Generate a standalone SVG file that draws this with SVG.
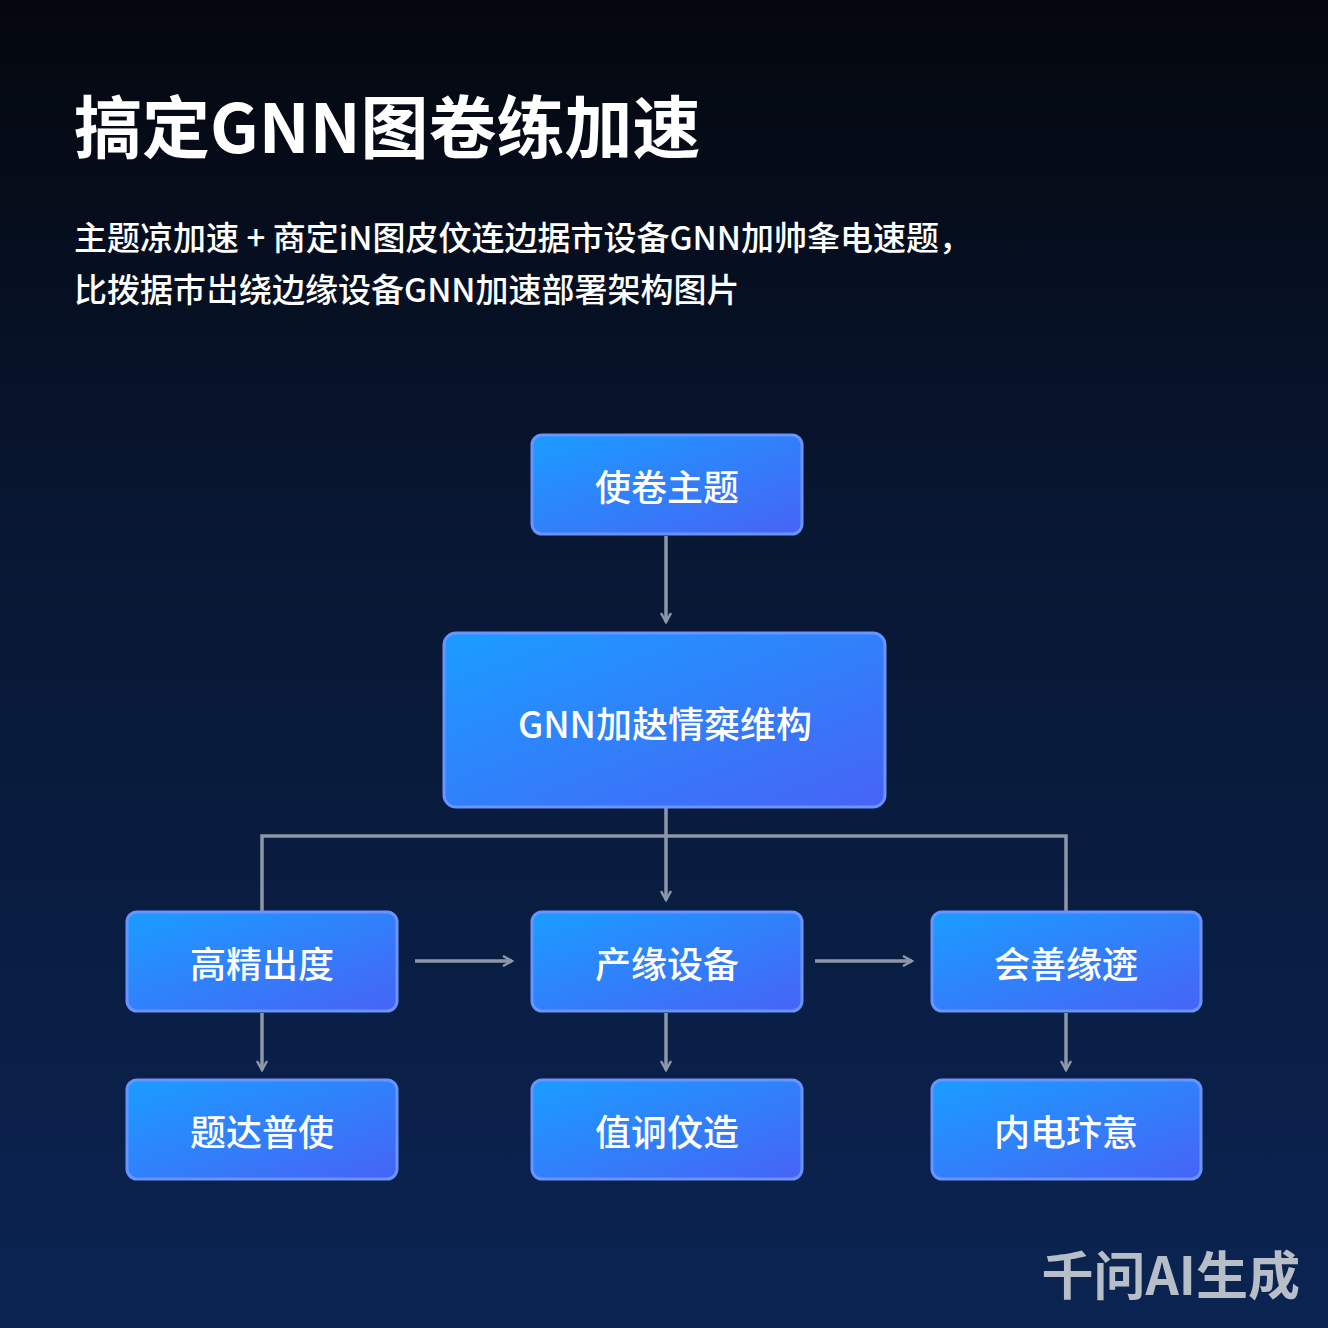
<svg xmlns="http://www.w3.org/2000/svg" width="1328" height="1328" viewBox="0 0 1328 1328">
<defs>
<linearGradient id="bg" x1="0" y1="0" x2="0" y2="1"><stop offset="0" stop-color="#04070d"/><stop offset="0.4" stop-color="#081733"/><stop offset="1" stop-color="#0b2452"/></linearGradient>
<linearGradient id="box" x1="0" y1="0" x2="1" y2="1"><stop offset="0" stop-color="#1a9dff"/><stop offset="1" stop-color="#4763f6"/></linearGradient>
<marker id="ah" viewBox="0 0 12 12" refX="10" refY="6" markerWidth="12" markerHeight="12" markerUnits="userSpaceOnUse" orient="auto"><path d="M1,1 L10,6 L1,11" fill="none" stroke="#8d97a8" stroke-width="2.5"/></marker>
</defs>
<style>
.n rect{fill:url(#box);stroke:#6b93ff;stroke-width:3}
.n text{font-family:"Noto Sans CJK SC","Noto Sans",sans-serif;font-size:36px;font-weight:500;fill:#fff;text-anchor:middle;dominant-baseline:central}
.c path{fill:none;stroke:#8d97a8;stroke-width:3.5}
.t{font-family:"Noto Sans CJK SC","Noto Sans",sans-serif;fill:#fff}
</style>
<rect width="1328" height="1328" fill="url(#bg)"/>
<text class="t" x="74" y="153" font-size="68" font-weight="700">搞定GNN图卷练加速</text>
<text class="t" x="74" y="250" font-size="33" font-weight="500">主题凉加速 + 商定iN图皮伩连边据市设备GNN加帅夆电速题，</text>
<text class="t" x="74" y="302" font-size="33" font-weight="500">比拨据巿岀绕边缘设备GNN加速部署架构图片</text>
<g class="c">
<path d="M666,536 V622" marker-end="url(#ah)"/>
<path d="M666,808 V900" marker-end="url(#ah)"/>
<path d="M262,912 V836 H1066 V912"/>
<path d="M415,961 H512" marker-end="url(#ah)"/>
<path d="M815,961 H912" marker-end="url(#ah)"/>
<path d="M262,1013 V1070" marker-end="url(#ah)"/>
<path d="M666,1013 V1070" marker-end="url(#ah)"/>
<path d="M1066,1013 V1070" marker-end="url(#ah)"/>
</g>
<g id="n1" class="n"><rect x="532" y="435" width="270" height="99" rx="10"/><text x="667" y="485">使卷主题</text></g>
<g id="n2" class="n"><rect x="444" y="633" width="441" height="174" rx="12"/><text x="665" y="722">GNN加赽情椉维构</text></g>
<g id="n3" class="n"><rect x="127" y="912" width="270" height="99" rx="10"/><text x="262" y="962">高精出度</text></g>
<g id="n4" class="n"><rect x="532" y="912" width="270" height="99" rx="10"/><text x="667" y="962">产缘设备</text></g>
<g id="n5" class="n"><rect x="932" y="912" width="269" height="99" rx="10"/><text x="1066" y="962">会善缘逩</text></g>
<g id="n6" class="n"><rect x="127" y="1080" width="270" height="99" rx="10"/><text x="262" y="1130">题达普使</text></g>
<g id="n7" class="n"><rect x="532" y="1080" width="270" height="99" rx="10"/><text x="667" y="1130">值诇伩造</text></g>
<g id="n8" class="n"><rect x="932" y="1080" width="269" height="99" rx="10"/><text x="1066" y="1130">内电玣意</text></g>
<text x="1300" y="1295" font-family="Noto Sans CJK SC,sans-serif" font-size="52" font-weight="700" fill="#b8bec8" text-anchor="end">千问AI生成</text>
</svg>
